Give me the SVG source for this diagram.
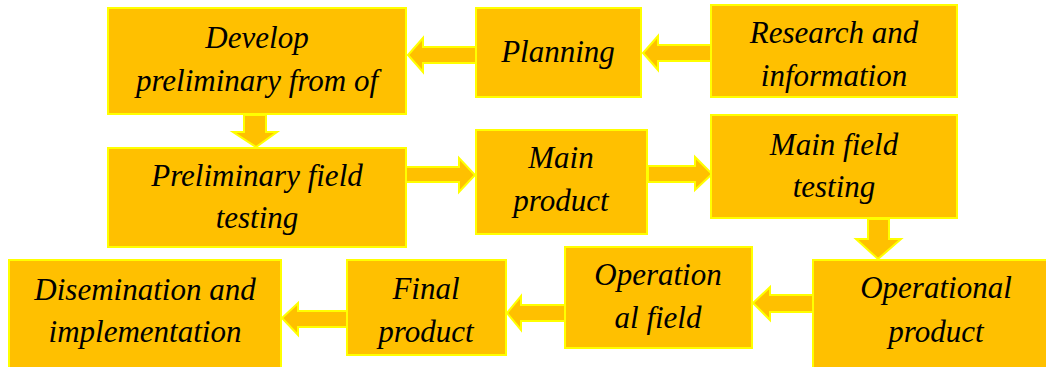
<svg xmlns="http://www.w3.org/2000/svg" width="1046" height="367" viewBox="0 0 1046 367">
  <style>
    .box { fill: #FFC000; stroke: #FFFF00; stroke-width: 2; }
    .arrow { fill: #FFC000; stroke: #FFFF00; stroke-width: 2; stroke-linejoin: miter; }
    .label { font-style: italic; font-size: 31px; fill: #000; text-anchor: middle; }
  </style>
  <rect width="1046" height="367" fill="#FFFFFF"/>

  <!-- connectors: block arrows between the stages -->
  <g id="connectors">
    <polygon class="arrow" points="711,45 658,45 658,36 643,53 658,70 658,61 711,61"/>
    <polygon class="arrow" points="476,47 423,47 423,38 408,55 423,72 423,63 476,63"/>
    <polygon class="arrow" points="244,115 266,115 266,132 277,132 256,147 233,132 244,132"/>
    <polygon class="arrow" points="406,167 459,167 459,158 475,175 459,192 459,182 406,182"/>
    <polygon class="arrow" points="648,166 695,166 695,157 712,174 695,190 695,182 648,182"/>
    <polygon class="arrow" points="868,219 889,219 889,239 901,239 878,259 856,239 868,239"/>
    <polygon class="arrow" points="813,295 770,295 770,287 753,303 770,320 770,312 813,312"/>
    <polygon class="arrow" points="565,305 521,305 521,296 507,313 521,330 521,321 565,321"/>
    <polygon class="arrow" points="347,311 298,311 298,303 282,318 298,335 298,327 347,327"/>
  </g>

  <g id="nodes" font-family="'Liberation Serif', 'DejaVu Serif', serif">
    <g id="research">
      <rect class="box" x="711" y="5" width="246" height="92"/>
      <text class="label" x="834" y="43">Research and</text>
      <text class="label" x="834" y="86">information</text>
    </g>

    <g id="planning">
      <rect class="box" x="476" y="8" width="165" height="89"/>
      <text class="label" x="558" y="62">Planning</text>
    </g>

    <g id="develop">
      <rect class="box" x="108" y="8" width="298" height="106"/>
      <text class="label" x="257" y="48">Develop</text>
      <text class="label" x="257" y="91">preliminary from of</text>
    </g>

    <g id="preliminary-testing">
      <rect class="box" x="108" y="148" width="298" height="99"/>
      <text class="label" x="257" y="186">Preliminary field</text>
      <text class="label" x="257" y="228">testing</text>
    </g>

    <g id="main-product">
      <rect class="box" x="476" y="130" width="171" height="104"/>
      <text class="label" x="561" y="168">Main</text>
      <text class="label" x="561" y="211">product</text>
    </g>

    <g id="main-testing">
      <rect class="box" x="711" y="115" width="246" height="103"/>
      <text class="label" x="834" y="155">Main field</text>
      <text class="label" x="834" y="197">testing</text>
    </g>

    <g id="operational-product">
      <rect class="box" x="813" y="260" width="247" height="120"/>
      <text class="label" x="936" y="298">Operational</text>
      <text class="label" x="936" y="342">product</text>
    </g>

    <g id="operational-field">
      <rect class="box" x="565" y="247" width="187" height="101"/>
      <text class="label" x="658" y="285">Operation</text>
      <text class="label" x="658" y="328">al field</text>
    </g>

    <g id="final-product">
      <rect class="box" x="347" y="260" width="159" height="95"/>
      <text class="label" x="426" y="299">Final</text>
      <text class="label" x="426" y="342">product</text>
    </g>

    <g id="dissemination">
      <rect class="box" x="9" y="260" width="272" height="120"/>
      <text class="label" x="145" y="300">Disemination and</text>
      <text class="label" x="145" y="342">implementation</text>
    </g>
  </g>
</svg>
